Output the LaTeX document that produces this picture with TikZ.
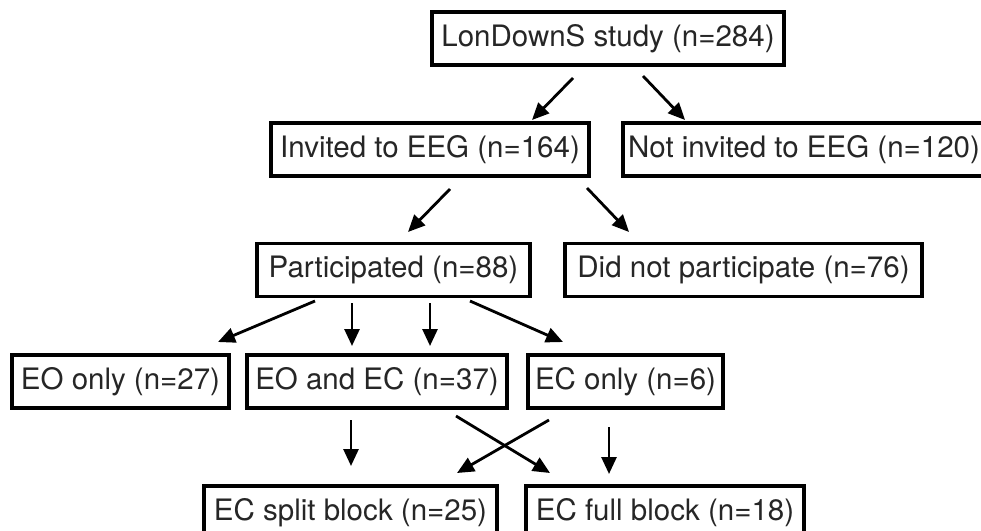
\documentclass[tikz,border=0pt]{standalone}
\usepackage{fontspec}
\setmainfont{TeX Gyre Heros}
\usetikzlibrary{arrows.meta}
\begin{document}
\begin{tikzpicture}[x=1pt,y=-1pt,
  box/.style={draw=black, line width=3.2pt, fill=white, rectangle,
    minimum height=53pt, inner sep=0pt,
    font=\fontsize{29.5}{31}\selectfont, text=black!85},
  flow/.style={line width=2.8pt, -{Triangle[length=17pt,width=15pt]}}]
\useasboundingbox (0,0) rectangle (981,530);
\clip (0,0) rectangle (981,530);

% boxes
\node[box, minimum width=352pt] (study)   at (608,38.5)   {LonDownS study (n=284)};
\node[box, minimum width=318pt] (invited) at (430,149.5)  {Invited to EEG (n=164)};
\node[box, minimum width=362pt] (notinv)  at (804,149.5)  {Not invited to EEG (n=120)};
\node[box, minimum width=273pt] (part)    at (393.5,270)  {Participated (n=88)};
\node[box, minimum width=357pt] (nopart)  at (743.5,270)  {Did not participate (n=76)};
\node[box, minimum width=217pt] (eo)      at (120.5,381.5){EO only (n=27)};
\node[box, minimum width=260pt] (eoec)    at (377,381.5)  {EO and EC (n=37)};
\node[box, minimum width=195pt] (ec)      at (625.5,381.5){EC only (n=6)};
\node[box, minimum width=293pt] (split)   at (350.5,512.5){EC split block (n=25)};
\node[box, minimum width=278pt] (full)    at (665,512.5)  {EC full block (n=18)};

% arrow end points
\coordinate (s1a) at (573,78);   \coordinate (e1a) at (532,120);
\coordinate (s1b) at (643,76);   \coordinate (e1b) at (685,120);
\coordinate (s2a) at (450,189);  \coordinate (e2a) at (408,232);
\coordinate (s2b) at (587,188);  \coordinate (e2b) at (629,232);
\coordinate (s3a) at (315,301);  \coordinate (e3a) at (218,342);
\coordinate (s3b) at (352,303);  \coordinate (e3b) at (352,346);
\coordinate (s3c) at (430,303);  \coordinate (e3c) at (430,346);
\coordinate (s3d) at (470,301);  \coordinate (e3d) at (563,342);
\coordinate (s4a) at (351,420);  \coordinate (e4a) at (351,466);
\coordinate (s4b) at (456,416);  \coordinate (e4b) at (550,473);
\coordinate (s4c) at (549,420);  \coordinate (e4c) at (457,473);
\coordinate (s4d) at (609,427);  \coordinate (e4d) at (609,474);

% arrows
\draw[flow] (s1a) -- (e1a);
\draw[flow] (s1b) -- (e1b);
\draw[flow] (s2a) -- (e2a);
\draw[flow] (s2b) -- (e2b);
\draw[flow] (s3a) -- (e3a);
\draw[flow] (s3b) -- (e3b);
\draw[flow] (s3c) -- (e3c);
\draw[flow] (s3d) -- (e3d);
\draw[flow] (s4a) -- (e4a);
\draw[flow] (s4b) -- (e4b);
\draw[flow] (s4c) -- (e4c);
\draw[flow] (s4d) -- (e4d);
\end{tikzpicture}
\end{document}
